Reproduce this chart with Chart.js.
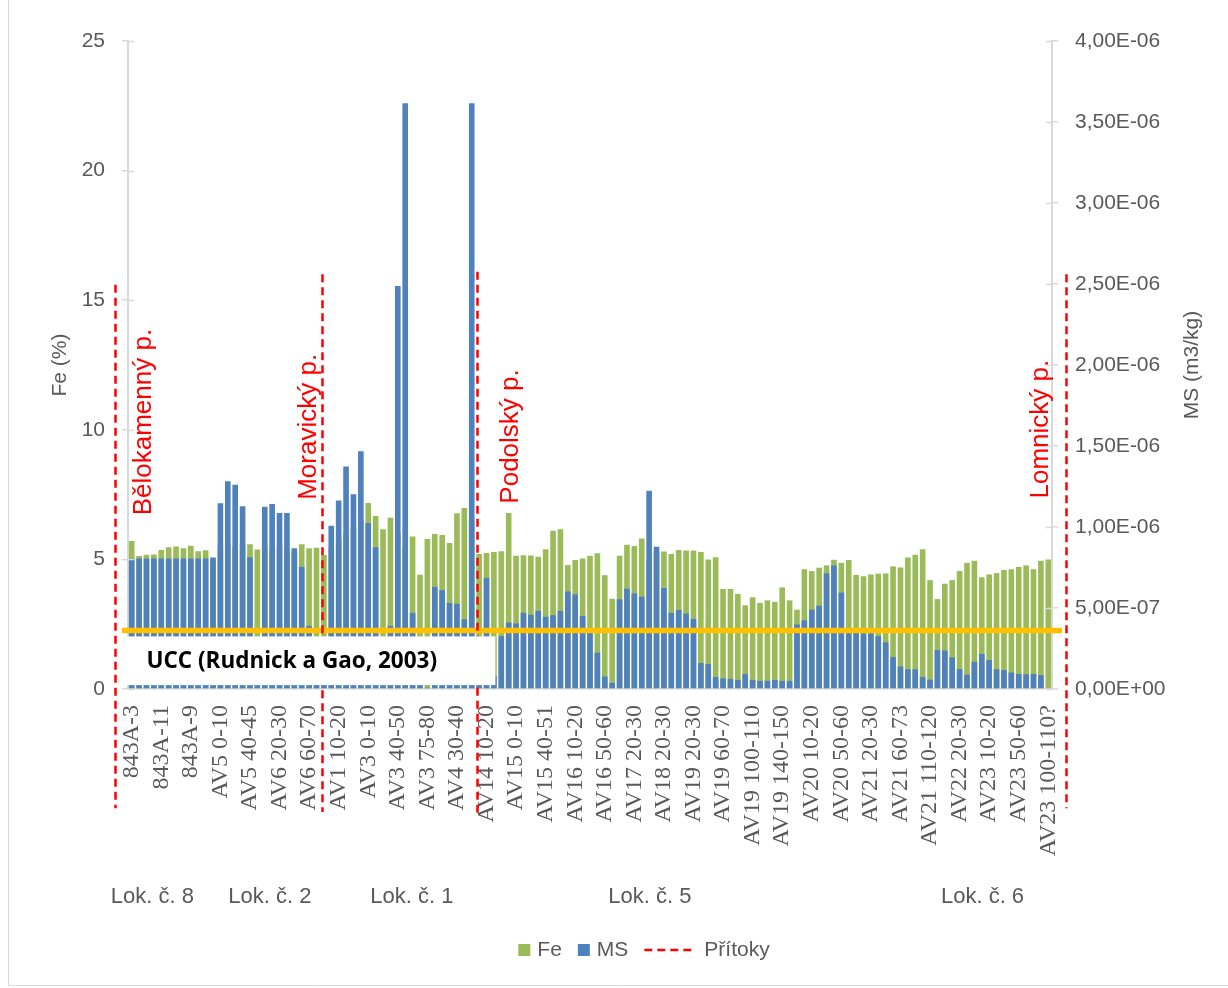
<!DOCTYPE html>
<html>
<head>
<meta charset="utf-8">
<title>Fe a MS</title>
<script src="https://cdn.jsdelivr.net/npm/chart.js@4.4.1/dist/chart.umd.min.js"></script>
<style>
    html, body { margin: 0; padding: 0; background: #ffffff; }
    #wrap { width: 1228px; height: 988px; }
</style>
</head>
<body>
<div id="wrap"><canvas id="chartFeMs" width="1228" height="988"></canvas></div>
<script>
// vzorky (kategorie) - popisek se zobrazuje u kazdeho ctvrteho
const sampleLabels = [
    '843A-3', '843A-4', '843A-5', '843A-10', '843A-11', '843A-12', '843A-6', '843A-7', '843A-9', '843A-8', '843A-2', '843A-1',
    'AV5 0-10', 'AV5 10-20', 'AV5 20-30', 'AV5 30-40', 'AV5 40-45', 'AV5 45-55', 'AV6 0-10', 'AV6 10-20', 'AV6 20-30', 'AV6 30-40', 'AV6 40-50', 'AV6 50-60', 'AV6 60-70', 'AV6 70-80',
    'AV1 0-5', 'AV1 5-10', 'AV1 10-20', 'AV1 20-30', 'AV2 0-10', 'AV2 10-20', 'AV3 0-10', 'AV3 10-20', 'AV3 20-30', 'AV3 30-40', 'AV3 40-50', 'AV3 50-60', 'AV3 60-70', 'AV3 70-75', 'AV3 75-80',
    'AV4 0-10', 'AV4 10-20', 'AV4 20-30', 'AV4 30-40', 'AV4 40-50', 'AV4 50-60',
    'AV14 0-10', 'AV14 10-20', 'AV14 20-30', 'AV14 30-40', 'AV14 40-50', 'AV15 0-10', 'AV15 10-20', 'AV15 20-30', 'AV15 30-40', 'AV15 40-51', 'AV15 51-60', 'AV15 60-70',
    'AV16 0-10', 'AV16 10-20', 'AV16 20-30', 'AV16 30-40', 'AV16 40-50', 'AV16 50-60', 'AV16 60-70', 'AV17 0-10', 'AV17 10-20', 'AV17 20-30', 'AV17 30-40',
    'AV18 0-10', 'AV18 10-20', 'AV18 20-30', 'AV18 30-40', 'AV19 0-10', 'AV19 10-20', 'AV19 20-30', 'AV19 30-40', 'AV19 40-50', 'AV19 50-60', 'AV19 60-70', 'AV19 70-80',
    'AV19 80-90', 'AV19 90-100', 'AV19 100-110', 'AV19 110-120', 'AV19 120-130', 'AV19 130-140', 'AV19 140-150', 'AV19 150-160',
    'AV20 0-5', 'AV20 5-10', 'AV20 10-20', 'AV20 20-30', 'AV20 30-40', 'AV20 40-50', 'AV20 50-60', 'AV20 60-70', 'AV21 0-10', 'AV21 10-20', 'AV21 20-30', 'AV21 30-40',
    'AV21 40-50', 'AV21 50-60', 'AV21 60-73', 'AV21 73-85', 'AV21 85-100', 'AV21 100-110', 'AV21 110-120', 'AV21 120-130', 'AV22 0-10', 'AV22 10-20', 'AV22 20-30', 'AV22 30-40',
    'AV22 40-50', 'AV23 0-10', 'AV23 10-20', 'AV23 20-30', 'AV23 30-40', 'AV23 40-50', 'AV23 50-60', 'AV23 60-70', 'AV23 70-80', 'AV23 80-100', 'AV23 100-110?'
];

// Fe (%)
const feValues = [
    5.71, 5.13, 5.18, 5.19, 5.36, 5.47, 5.50, 5.43, 5.53, 5.31, 5.35, 5.00,
    5.50, 5.60, 5.50, 5.60, 5.58, 5.38, 5.50, 5.40, 5.50, 5.40, 5.30, 5.58, 5.43, 5.45,
    5.17, 5.50, 5.80, 6.00, 6.20, 6.50, 7.18, 6.67, 6.16, 6.61, 6.00, 5.50, 5.88, 4.41, 5.79,
    5.98, 5.94, 5.63, 6.78, 6.98, 6.50,
    5.21, 5.25, 5.29, 5.31, 6.79, 5.14, 5.16, 5.15, 5.10, 5.39, 6.11, 6.16,
    4.78, 4.98, 5.03, 5.14, 5.24, 4.39, 3.48, 5.14, 5.57, 5.52, 5.81,
    5.00, 5.30, 5.30, 5.21, 5.36, 5.34, 5.34, 5.29, 5.00, 5.08, 3.86, 3.86,
    3.67, 3.23, 3.54, 3.32, 3.42, 3.36, 3.92, 3.42,
    3.06, 4.62, 4.55, 4.68, 4.77, 4.99, 4.87, 4.98, 4.40, 4.35, 4.42, 4.45,
    4.46, 4.73, 4.69, 5.07, 5.18, 5.39, 4.20, 3.47, 4.06, 4.20, 4.55, 4.87,
    4.95, 4.31, 4.42, 4.47, 4.59, 4.62, 4.71, 4.77, 4.62, 4.95, 5.00
];

// MS (m3/kg)
const msValues = [
    8.05e-7, 8.06e-7, 8.06e-7, 8.06e-7, 8.06e-7, 8.06e-7, 8.06e-7, 8.06e-7, 8.06e-7, 8.06e-7, 8.06e-7, 8.11e-7,
    1.146e-6, 1.282e-6, 1.261e-6, 1.128e-6, 8.13e-7, 4.8e-8, 1.125e-6, 1.142e-6, 1.086e-6, 1.086e-6, 8.69e-7, 7.54e-7, 3.9e-7, 4.8e-8,
    4.8e-8, 1.008e-6, 1.163e-6, 1.374e-6, 1.202e-6, 1.467e-6, 1.024e-6, 8.75e-7, 4.8e-8, 3.9e-7, 2.488e-6, 3.616e-6, 4.7e-7, 8.0e-8, 8.0e-9,
    6.3e-7, 6.1e-7, 5.31e-7, 5.26e-7, 4.3e-7, 3.616e-6,
    8.0e-8, 6.86e-7, 8.0e-8, 3.26e-7, 4.1e-7, 4.05e-7, 4.7e-7, 4.58e-7, 4.82e-7, 4.46e-7, 4.56e-7, 4.82e-7,
    6.02e-7, 5.84e-7, 4.51e-7, 3.52e-7, 2.24e-7, 7.7e-8, 3.8e-8, 5.54e-7, 6.19e-7, 5.9e-7, 5.7e-7,
    1.224e-6, 8.78e-7, 6.24e-7, 4.7e-7, 4.88e-7, 4.66e-7, 4.32e-7, 1.6e-7, 1.54e-7, 7.4e-8, 6.6e-8, 6.2e-8,
    5.6e-8, 9.3e-8, 5.6e-8, 5.0e-8, 5.1e-8, 5.6e-8, 5.0e-8, 5.0e-8,
    3.98e-7, 4.24e-7, 4.9e-7, 5.14e-7, 7.14e-7, 7.63e-7, 5.95e-7, 3.6e-7, 3.52e-7, 3.44e-7, 3.44e-7, 3.26e-7,
    2.88e-7, 1.97e-7, 1.39e-7, 1.22e-7, 1.22e-7, 7.4e-8, 5.8e-8, 2.4e-7, 2.38e-7, 1.95e-7, 1.23e-7, 8.8e-8,
    1.68e-7, 2.16e-7, 1.78e-7, 1.23e-7, 1.17e-7, 1.02e-7, 9.3e-8, 9.1e-8, 9.3e-8, 8.6e-8, 0
];

const localities = ['Lok. č. 8', 'Lok. č. 2', 'Lok. č. 1', 'Lok. č. 5', 'Lok. č. 6'];
const tributaries = ['Bělokamenný p.', 'Moravický p.', 'Podolský p.', 'Lomnický p.'];
const uccFe = 2.26;
const uccText = 'UCC (Rudnick a Gao, 2003)';

const colFe = '#9BBB59';
const colMs = '#4F81BD';
const colGrey = '#595959';
const colAxis = '#D9D9D9';
const sansFont = '"Liberation Sans", Arial, sans-serif';

function sciComma(v) {
    let parts = v.toExponential(2).split('e');
    let exp = parseInt(parts[1], 10);
    return parts[0].replace('.', ',') + 'E' + (exp < 0 ? '-' : '+') + String(Math.abs(exp)).padStart(2, '0');
}

// popisky, cary pritoku, UCC, legenda
const overlayPlugin = {
    id: 'overlay',
    afterDatasetsDraw: function (chart, args, opts) {
        const ctx = chart.ctx;
        const area = chart.chartArea;
        const xs = chart.scales.x;
        const yFe = chart.scales.yFe;
        const step = xs.getPixelForValue(1) - xs.getPixelForValue(0);
        const xAt = function (v) { return xs.getPixelForValue(0) + v * step; };

        ctx.save();

        // UCC line
        let yU = yFe.getPixelForValue(uccFe);
        ctx.strokeStyle = '#FFC000';
        ctx.lineWidth = 5.5;
        ctx.beginPath();
        ctx.moveTo(area.left - 6, yU);
        ctx.lineTo(area.right + 10, yU);
        ctx.stroke();

        // pritoky - cervene prerusovane cary
        ctx.strokeStyle = '#FF0000';
        ctx.lineWidth = 2.5;
        ctx.setLineDash([8, 5]);
        opts.lines.forEach(function (l) {
            let px = Math.round(xAt(l.at)) + 0.5;
            ctx.beginPath();
            ctx.moveTo(px, yFe.getPixelForValue(l.top));
            ctx.lineTo(px, yFe.getPixelForValue(l.bottom));
            ctx.stroke();
        });
        ctx.setLineDash([]);

        // bily ramecek UCC
        let bx0 = xAt(opts.box.from), bx1 = xAt(opts.box.to);
        let by0 = yFe.getPixelForValue(opts.box.top), by1 = yFe.getPixelForValue(opts.box.bottom);
        ctx.fillStyle = '#ffffff';
        ctx.fillRect(bx0, by0, bx1 - bx0, by1 - by0);
        ctx.fillStyle = '#000000';
        ctx.font = 'bold 22.5px "Open Sans", ' + sansFont;
        ctx.textAlign = 'left';
        ctx.textBaseline = 'middle';
        ctx.fillText(uccText, bx0 + 21, (by0 + by1) / 2 + 1);

        // nazvy pritoku
        ctx.fillStyle = '#FF0000';
        ctx.font = '26px ' + sansFont;
        ctx.textBaseline = 'alphabetic';
        tributaries.forEach(function (name, i) {
            let t = opts.texts[i];
            ctx.save();
            ctx.translate(xAt(t.at), yFe.getPixelForValue(t.from));
            ctx.rotate(-Math.PI / 2);
            ctx.fillText(name, 0, 0);
            ctx.restore();
        });

        ctx.restore();
    },
    afterDraw: function (chart, args, opts) {
        const ctx = chart.ctx;
        const area = chart.chartArea;
        const xs = chart.scales.x;
        const step = xs.getPixelForValue(1) - xs.getPixelForValue(0);
        const xAt = function (v) { return xs.getPixelForValue(0) + v * step; };

        ctx.save();

        // vnitrni cast znacek na osach
        ctx.strokeStyle = colAxis;
        ctx.lineWidth = 1.5;
        ['yFe', 'yMS'].forEach(function (id) {
            let sc = chart.scales[id];
            let x0 = id === 'yFe' ? area.left : area.right;
            let dir = id === 'yFe' ? 1 : -1;
            sc.ticks.forEach(function (t) {
                let py = Math.round(sc.getPixelForValue(t.value)) + 0.5;
                ctx.beginPath();
                ctx.moveTo(x0, py);
                ctx.lineTo(x0 + dir * 6, py);
                ctx.stroke();
            });
        });

        // lokality
        ctx.fillStyle = colGrey;
        ctx.font = '22px ' + sansFont;
        ctx.textAlign = 'center';
        ctx.textBaseline = 'middle';
        localities.forEach(function (name, i) {
            ctx.fillText(name, xAt(opts.localityAt[i]), area.bottom + 208);
        });

        // nazvy os
        ctx.font = '21px ' + sansFont;
        [['Fe (%)', area.left - 68], ['MS (m3/kg)', area.right + 140]].forEach(function (t) {
            ctx.save();
            ctx.translate(t[1], (area.top + area.bottom) / 2);
            ctx.rotate(-Math.PI / 2);
            ctx.fillText(t[0], 0, 0);
            ctx.restore();
        });

        // legenda
        ctx.font = '21px ' + sansFont;
        ctx.textAlign = 'left';
        let items = [
            { kind: 'box', color: colFe, text: 'Fe' },
            { kind: 'box', color: colMs, text: 'MS' },
            { kind: 'dash', color: '#FF0000', text: 'Přítoky' }
        ];
        let widths = items.map(function (it) {
            return (it.kind === 'box' ? 19 : 60) + ctx.measureText(it.text).width;
        });
        let total = widths.reduce(function (a, b) { return a + b; }, 0) + 16 * (items.length - 1);
        let lx = opts.legendCenter - total / 2;
        let ly = area.bottom + 261;
        items.forEach(function (it, i) {
            if (it.kind === 'box') {
                ctx.fillStyle = it.color;
                ctx.fillRect(lx, ly - 6, 12, 12);
                ctx.fillStyle = colGrey;
                ctx.fillText(it.text, lx + 19, ly);
            } else {
                ctx.strokeStyle = it.color;
                ctx.lineWidth = 2.5;
                ctx.setLineDash([8, 5]);
                ctx.beginPath();
                ctx.moveTo(lx, ly);
                ctx.lineTo(lx + 50, ly);
                ctx.stroke();
                ctx.setLineDash([]);
                ctx.fillStyle = colGrey;
                ctx.fillText(it.text, lx + 60, ly);
            }
            lx += widths[i] + 16;
        });

        // ramecek grafu
        ctx.strokeStyle = colAxis;
        ctx.lineWidth = 1;
        ctx.beginPath();
        ctx.moveTo(8.5, 0);
        ctx.lineTo(8.5, 985.5);
        ctx.lineTo(1228, 985.5);
        ctx.stroke();

        ctx.restore();
    }
};

let ctxFeMs = document.getElementById('chartFeMs').getContext('2d');

let chartFeMs = new Chart(ctxFeMs, {
    type: 'bar',
    data: {
        labels: sampleLabels,
        datasets: [
            {
                label: 'MS',
                data: msValues,
                yAxisID: 'yMS',
                backgroundColor: colMs,
                grouped: false,
                barPercentage: 0.76,
                categoryPercentage: 1,
                order: 1
            },
            {
                label: 'Fe',
                data: feValues,
                yAxisID: 'yFe',
                backgroundColor: colFe,
                grouped: false,
                barPercentage: 0.76,
                categoryPercentage: 1,
                order: 2
            }
        ]
    },
    plugins: [overlayPlugin],
    options: {
        responsive: false,
        animation: false,
        layout: {
            padding: { top: 41, left: 0, right: 0, bottom: 0 }
        },
        plugins: {
            legend: { display: false },
            tooltip: { enabled: false },
            overlay: {
                lines: [
                    { at: -2.2, top: 15.6, bottom: -4.6 },
                    { at: 25.7, top: 16.0, bottom: -4.75 },
                    { at: 46.7, top: 16.1, bottom: -4.85 },
                    { at: 126.4, top: 16.0, bottom: -4.6 }
                ],
                texts: [
                    { at: 2.6, from: 6.7 },
                    { at: 24.9, from: 7.3 },
                    { at: 52.3, from: 7.15 },
                    { at: 123.9, from: 7.35 }
                ],
                box: { from: -0.85, to: 49.2, top: 2.03, bottom: 0.15 },
                localityAt: [2.8, 18.7, 37.9, 70.1, 115.1],
                legendCenter: 644
            }
        },
        scales: {
            x: {
                offset: true,
                grid: { display: false, drawTicks: false },
                border: { display: true, color: colAxis, width: 1.5 },
                ticks: {
                    autoSkip: false,
                    minRotation: 90,
                    maxRotation: 90,
                    padding: 16,
                    color: colGrey,
                    font: { family: '"Liberation Serif", "Times New Roman", serif', size: 24 },
                    callback: function (val, i) {
                        return i % 4 === 0 ? this.getLabelForValue(val) : '';
                    }
                },
                afterFit: function (scale) { scale.height = 299; }
            },
            yFe: {
                position: 'left',
                min: 0,
                max: 25,
                grid: { display: true, drawOnChartArea: false, drawTicks: true, tickLength: 6, color: colAxis, lineWidth: 1.5 },
                border: { display: true, color: colAxis, width: 2 },
                ticks: {
                    stepSize: 5,
                    padding: 17,
                    color: colGrey,
                    font: { family: sansFont, size: 21 }
                },
                afterFit: function (scale) { scale.width = 128; }
            },
            yMS: {
                position: 'right',
                min: 0,
                max: 4e-6,
                grid: { display: true, drawOnChartArea: false, drawTicks: true, tickLength: 6, color: colAxis, lineWidth: 1.5 },
                border: { display: true, color: colAxis, width: 2 },
                ticks: {
                    stepSize: 5e-7,
                    padding: 17,
                    color: colGrey,
                    font: { family: sansFont, size: 21 },
                    callback: function (val) { return sciComma(val); }
                },
                afterFit: function (scale) { scale.width = 176; }
            }
        }
    }
});
</script>
</body>
</html>
